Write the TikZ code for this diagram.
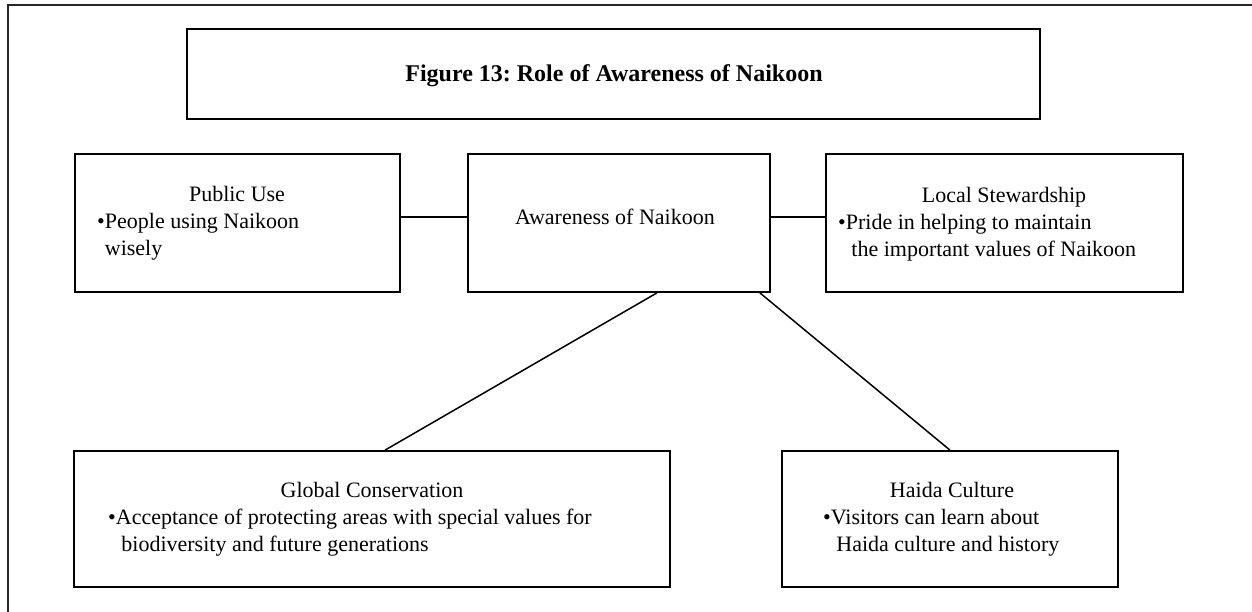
\documentclass[tikz,border=0pt]{standalone}
\usepackage{fontspec}
\setmainfont{Liberation Serif}
\usepackage{tikz}
\usetikzlibrary{calc}
\tikzset{
    frame/.style={draw=black!85, line width=1.8bp},
    box/.style={draw, rectangle, line width=1.7bp, inner sep=0pt},
    link/.style={draw, line width=1.5bp},
    head/.style={inner sep=0pt, anchor=base, font=\fontsize{22bp}{27bp}\selectfont},
    line/.style={inner sep=0pt, anchor=base west, font=\fontsize{22bp}{27bp}\selectfont}
}
\newcommand{\itemdot}{\textbullet}
\newcommand{\itemgap}{\hphantom{\textbullet}}
\frenchspacing

\begin{document}
\begin{tikzpicture}[x=1bp, y=-1bp]
    \useasboundingbox (0,0) rectangle (1252,612);
    \draw[frame] (1252,5) -- (8,5) -- (8,612); % page frame, cut off right and below
    % boxes
    \node[box, minimum width=853bp, minimum height=90bp] (title) at (613.5,74) {};
    \node[box, minimum width=325bp, minimum height=138bp] (pubuse) at (237.5,223) {};
    \node[box, minimum width=302bp, minimum height=138bp] (aware) at (619,223) {};
    \node[box, minimum width=357bp, minimum height=138bp] (localst) at (1004.5,223) {};
    \node[box, minimum width=596bp, minimum height=136bp] (global) at (372,519) {};
    \node[box, minimum width=336bp, minimum height=136bp] (haida) at (950,519) {};
    % texts
    \node[head, font=\fontsize{24bp}{29bp}\selectfont\bfseries] (title-text) at (614,82) {Figure 13: Role of Awareness of Naikoon};
    \node[head] (pubuse-head) at (237,202) {Public Use};
    \node[line] (pubuse-a) at (97,229) {\itemdot People using Naikoon};
    \node[line] (pubuse-b) at (97,256) {\itemgap wisely};
    \node[head] (aware-head) at (615,225) {Awareness of Naikoon};
    \node[head] (localst-head) at (1004,203) {Local Stewardship};
    \node[line] (localst-a) at (838,230) {\itemdot Pride in helping to maintain};
    \node[line] (localst-b) at (838,257) {\itemgap\ the important values of Naikoon};
    \node[head] (global-head) at (372,497) {Global Conservation};
    \node[line] (global-a) at (108,524) {\itemdot Acceptance of protecting areas with special values for};
    \node[line] (global-b) at (108,551) {\itemgap\ biodiversity and future generations};
    \node[head] (haida-head) at (952,497) {Haida Culture};
    \node[line] (haida-a) at (823,524) {\itemdot Visitors can learn about};
    \node[line] (haida-b) at (823,551) {\itemgap\ Haida culture and history};
    % connectors
    \draw[link] ([yshift=6bp]pubuse.east) -- ([yshift=6bp]aware.west);
    \draw[link] ([yshift=6bp]aware.east) -- ([yshift=6bp]localst.west);
    \draw[link] ([xshift=38bp]aware.south) -- ([xshift=13bp]global.north);
    \draw[link] ([xshift=-11bp]aware.south east) -- (haida.north);
\end{tikzpicture}
\end{document}
